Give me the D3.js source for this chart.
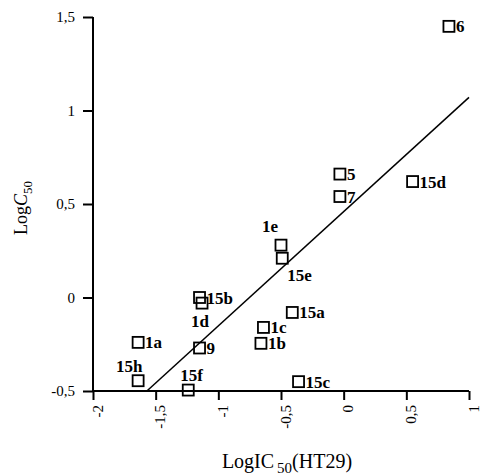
<!DOCTYPE html>
<html lang="en">
<head>
	<meta charset="UTF-8">
	<title>LogC50 vs LogIC50</title>
	<style>
		body {
			margin: 0;
			background: #fff;
		}

		svg text {
			font-family: "Liberation Serif", "Times New Roman", serif;
			fill: #000;
		}

		.axis path,
		.axis line {
			stroke: #000;
			stroke-width: 2px;
		}

		.pt {
			fill: none;
			stroke: #000;
			stroke-width: 1.8px;
		}

		.lbl {
			font-size: 17px;
			font-weight: bold;
		}

		.fit {
			stroke: #000;
			stroke-width: 1.5px;
			fill: none;
		}
	</style>
	<script src="https://d3js.org/d3.v7.min.js"></script>
</head>
<body>
	<script>
		// compound names and values
		const names = ["6", "5", "7", "15d", "1e", "15e", "15a", "1c", "1b", "15c", "15b", "1d", "1a", "9", "15h", "15f"];
		const logIC = [0.84, -0.03, -0.03, 0.55, -0.50, -0.49, -0.41, -0.64, -0.66, -0.36, -1.15, -1.13, -1.64, -1.15, -1.64, -1.24];
		const logC = [1.45, 0.66, 0.54, 0.62, 0.28, 0.21, -0.08, -0.16, -0.245, -0.45, 0.0, -0.03, -0.24, -0.27, -0.445, -0.495];

		// regression line end points
		const fitX = [-1.57, 1.0];
		const fitY = [-0.5, 1.07];

		const xTicks = [-2, -1.5, -1, -0.5, 0, 0.5, 1];
		const yTicks = [-0.5, 0, 0.5, 1, 1.5];

		// where each label sits relative to its square (default is to the right)
		const labelPos = {
			"1e": [-19, -13],
			"15e": [5, 23],
			"1d": [-11, 24],
			"15h": [-22, -9],
			"15f": [-8, -9]
		};

		const width = 480, height = 475;
		const x = d3.scaleLinear().domain([-2, 1]).range([93, 469]);
		const y = d3.scaleLinear().domain([-0.5, 1.5]).range([391, 17]);

		const fmt = d => String(d).replace(".", ",");

		const svg = d3.select("body").append("svg")
			.attr("width", width)
			.attr("height", height);

		// x axis
		const gx = svg.append("g")
			.attr("class", "axis")
			.attr("transform", `translate(0,${y(-0.5)})`)
			.call(d3.axisBottom(x).tickValues(xTicks).tickSize(9).tickSizeOuter(0).tickFormat(fmt));
		gx.selectAll("text")
			.attr("font-size", 15)
			.attr("text-anchor", "end")
			.attr("dy", "0.35em")
			.attr("y", 0)
			.attr("transform", d => "translate(4,14) rotate(-90)");

		// y axis
		const gy = svg.append("g")
			.attr("class", "axis")
			.attr("transform", `translate(${x(-2)},0)`)
			.call(d3.axisLeft(y).tickValues(yTicks).tickSize(10).tickSizeOuter(0).tickFormat(fmt));
		gy.selectAll("text")
			.attr("font-size", 15)
			.attr("x", -18);
		gy.select(".domain").attr("d", `M0,${y(1.5)}V${y(-0.5)}`);
		gx.select(".domain").attr("d", `M${x(-2)},0H${x(1)}`);

		// fitted line
		svg.append("line")
			.attr("class", "fit")
			.attr("x1", x(fitX[0])).attr("y1", y(fitY[0]))
			.attr("x2", x(fitX[1])).attr("y2", y(fitY[1]));

		// squares
		const s = 11;
		svg.selectAll(".pt")
			.data(names)
			.enter()
			.append("rect")
			.attr("class", "pt")
			.attr("x", (d, i) => x(logIC[i]) - s / 2)
			.attr("y", (d, i) => y(logC[i]) - s / 2)
			.attr("width", s)
			.attr("height", s);

		svg.selectAll(".lbl")
			.data(names)
			.enter()
			.append("text")
			.attr("class", "lbl")
			.attr("x", (d, i) => x(logIC[i]) + (labelPos[d] ? labelPos[d][0] : 7))
			.attr("y", (d, i) => y(logC[i]) + (labelPos[d] ? labelPos[d][1] : 6))
			.text(d => d);

		// axis titles
		const xt = svg.append("text")
			.attr("x", 287)
			.attr("y", 468)
			.attr("text-anchor", "middle")
			.attr("font-size", 20);
		xt.append("tspan").text("LogIC");
		xt.append("tspan").attr("dx", 3).attr("dy", 5).attr("font-size", 15).text("50");
		xt.append("tspan").attr("dy", -5).text("(HT29)");

		const yt = svg.append("text")
			.attr("transform", "translate(27,208) rotate(-90)")
			.attr("text-anchor", "middle")
			.attr("font-size", 18);
		yt.append("tspan").text("Log");
		yt.append("tspan").attr("font-style", "italic").text("C");
		yt.append("tspan").attr("dy", 5).attr("font-size", 13).text("50");
	</script>
</body>
</html>
